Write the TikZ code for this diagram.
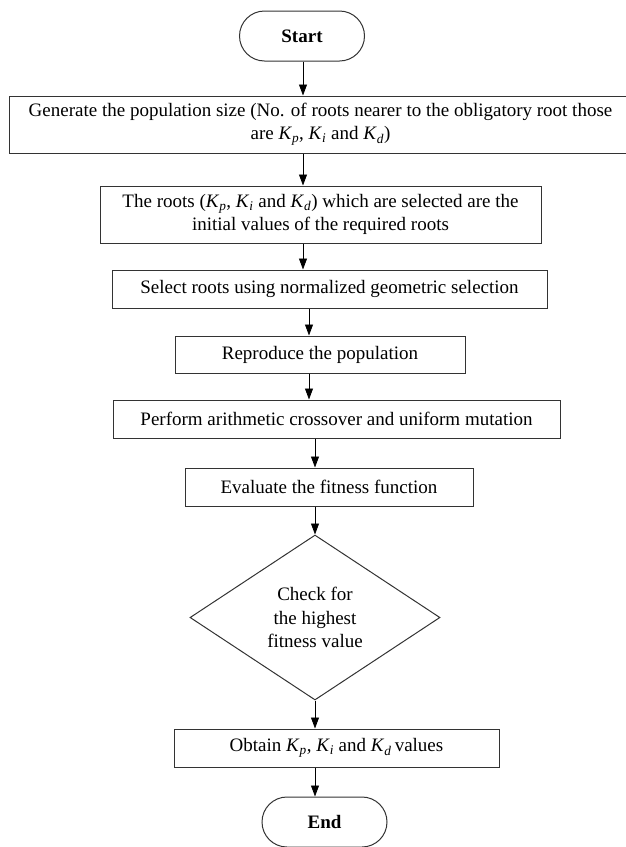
\documentclass[tikz,border=0pt]{standalone}
\usepackage{fontspec}
\setmainfont{Liberation Serif}
\usetikzlibrary{arrows.meta,shapes.geometric,shapes.misc}
\newcommand{\Kx}[1]{\textit{K}\textsubscript{\textit{#1}}}
\newcommand{\link}[3]{
  \draw[arr] (#1.south -| #3) -- (#2.north -| #3);
}
\tikzset{
  box/.style={draw=black!80, line width=1pt, rectangle, inner sep=0pt, align=center,
    font=\fontsize{19}{23}\selectfont},
  term/.style={draw=black!80, line width=1pt, rounded rectangle, inner sep=0pt,
    minimum width=125pt, minimum height=50pt, font=\fontsize{19}{24}\selectfont\bfseries},
  test/.style={draw=black!80, line width=1pt, diamond, aspect=1.5, inner sep=0pt, align=center,
    minimum width=250pt, minimum height=165pt, font=\fontsize{19}{23.5}\selectfont},
  arr/.style={-{Triangle[length=11pt,width=8pt]}, line width=0.8pt}
}
\begin{document}
\begin{tikzpicture}[x=1pt,y=-1pt]
  \useasboundingbox (0,0) rectangle (625,847);

  % arrow lanes
  \coordinate (laneA) at (303,0);
  \coordinate (laneB) at (309,0);
  \coordinate (laneC) at (315,0);

  \node[term] (start) at (302,36) {Start};
  \node[box, minimum width=623pt, minimum height=57pt] (gen) at (320.5,124.5)
    {Generate the population size (No. of roots nearer to the obligatory root those\\
     are \Kx{p}, \Kx{i} and \Kx{d})};
  \node[box, minimum width=441pt, minimum height=57pt] (init) at (320.5,214.5)
    {The roots (\Kx{p}, \Kx{i} and \Kx{d}) which are selected are the\\
     initial values of the required roots};
  \node[box, minimum width=435pt, minimum height=38pt] (sel) at (329.5,289)
    {Select roots using normalized geometric selection};
  \node[box, minimum width=290pt, minimum height=37pt] (rep) at (320,354.5)
    {Reproduce the population};
  \node[box, minimum width=447pt, minimum height=38pt] (cross) at (336.5,419)
    {Perform arithmetic crossover and uniform mutation};
  \node[box, minimum width=288pt, minimum height=38pt] (eval) at (329,487)
    {Evaluate the fitness function};
  \node[test] (check) at (315,617.5) {Check for\\ the highest\\ fitness value};
  \node[box, minimum width=325pt, minimum height=38pt] (obtain) at (336.5,748)
    {Obtain \Kx{p}, \Kx{i} and \Kx{d}\,values};
  \node[term] (stop) at (324.5,822) {End};

  \link{start}{gen}{laneA}
  \link{gen}{init}{laneA}
  \link{init}{sel}{laneA}
  \link{sel}{rep}{laneB}
  \link{rep}{cross}{laneB}
  \link{cross}{eval}{laneC}
  \link{eval}{check}{laneC}
  \link{check}{obtain}{laneC}
  \link{obtain}{stop}{laneC}
\end{tikzpicture}
\end{document}
